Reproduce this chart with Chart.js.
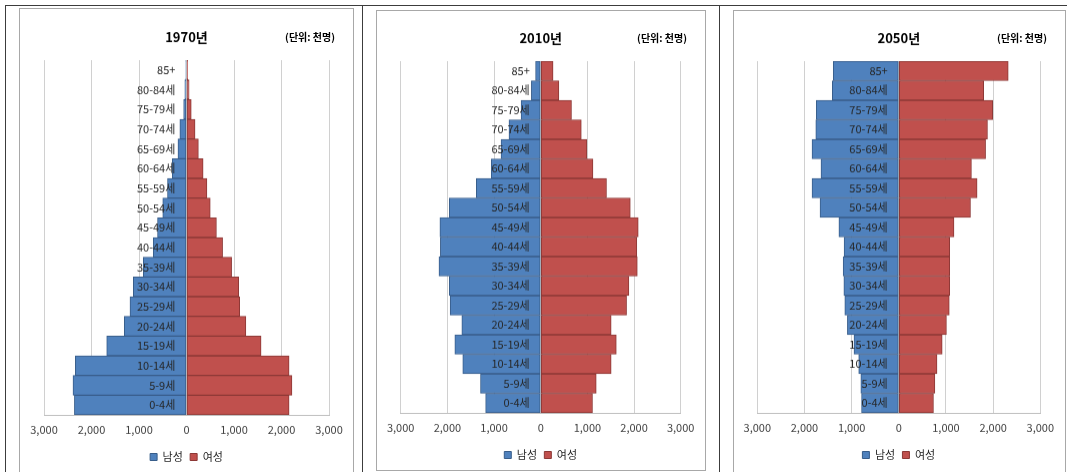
<!DOCTYPE html>
<html>
<head>
<meta charset="utf-8">
<script src="https://cdn.jsdelivr.net/npm/chart.js@4.4.1/dist/chart.umd.min.js"></script>
<style>
  html, body { margin: 0; padding: 0; background: #fff; overflow: hidden; }
  body { width: 1067px; height: 472px; position: relative; font-family: "Noto Sans CJK KR", sans-serif; }
  .line { position: absolute; background: #3c3c3c; }
  .box { position: absolute; border: 1px solid #a8a8a8; box-sizing: border-box; }
  .wrap { position: absolute; }
  .unit { position: absolute; font-size: 10px; font-weight: bold; color: #000; white-space: nowrap; line-height: 14px; }
</style>
</head>
<body>
<div class="line" style="left:5px;top:5px;width:1062px;height:1px"></div>
<div class="line" style="left:5px;top:5px;width:1px;height:467px"></div>
<div class="line" style="left:362px;top:5px;width:1px;height:467px"></div>
<div class="line" style="left:719px;top:5px;width:1px;height:467px"></div>

<div class="box" style="left:19px;top:8px;width:335px;height:480px"></div>
<div class="box" style="left:376px;top:10px;width:330px;height:461px"></div>
<div class="box" style="left:733px;top:10px;width:333px;height:480px"></div>

<div class="wrap" style="left:19px;top:8px;width:334px;height:463.5px"><canvas id="c1970"></canvas></div>
<div class="wrap" style="left:376px;top:10px;width:329px;height:459.5px"><canvas id="c2010"></canvas></div>
<div class="wrap" style="left:733px;top:10px;width:332px;height:459.5px"><canvas id="c2050"></canvas></div>

<div class="unit" style="right:732px;top:30px">(단위: 천명)</div>
<div class="unit" style="right:380px;top:31px">(단위: 천명)</div>
<div class="unit" style="right:20px;top:31px">(단위: 천명)</div>

<script>
const ageGroups = ['0-4세', '5-9세', '10-14세', '15-19세', '20-24세', '25-29세', '30-34세', '35-39세',
  '40-44세', '45-49세', '50-54세', '55-59세', '60-64세', '65-69세', '70-74세', '75-79세', '80-84세', '85+']

const male1970 = [2360, 2390, 2340, 1680, 1310, 1190, 1120, 910, 700, 610, 500, 400, 300, 180, 140, 60, 35, 15]
const female1970 = [2160, 2220, 2160, 1570, 1250, 1120, 1100, 950, 760, 630, 500, 430, 350, 250, 180, 100, 55, 25]

const male2010 = [1180, 1290, 1670, 1840, 1690, 1940, 1960, 2180, 2150, 2160, 1960, 1380, 1060, 850, 680, 420, 200, 110]
const female2010 = [1110, 1190, 1510, 1620, 1510, 1840, 1890, 2070, 2060, 2090, 1920, 1410, 1120, 990, 870, 660, 390, 265]

const male2050 = [790, 805, 850, 950, 1090, 1145, 1165, 1180, 1160, 1270, 1670, 1840, 1650, 1840, 1760, 1750, 1410, 1390]
const female2050 = [735, 765, 810, 920, 1010, 1070, 1080, 1080, 1080, 1170, 1520, 1660, 1540, 1840, 1880, 1990, 1800, 2320]

const xTicks = [-3000, -2000, -1000, 0, 1000, 2000, 3000]
const seriesNames = ['남성', '여성']

// age labels sit a little left of the zero line
const labelAnchor = -235

const FONT = '"Noto Sans CJK KR", sans-serif'

function pyramid(id, title, male, female, pad) {
  const ctx = document.getElementById(id)
  return new Chart(ctx, {
    type: 'bar',
    data: {
      labels: ageGroups,
      datasets: [{
        label: seriesNames[0],
        data: male.map(v => -v),
        backgroundColor: '#4f81bd',
        borderColor: '#385d8a',
        borderWidth: 1,
        borderSkipped: false,
        barPercentage: 1,
        categoryPercentage: 1
      }, {
        label: seriesNames[1],
        data: female,
        backgroundColor: '#c0504d',
        borderColor: '#8c3836',
        borderWidth: 1,
        borderSkipped: false,
        barPercentage: 1,
        categoryPercentage: 1
      }]
    },
    options: {
      indexAxis: 'y',
      responsive: true,
      maintainAspectRatio: false,
      animation: false,
      layout: { padding: { left: pad.left, right: pad.right, top: 0, bottom: 0 } },
      plugins: {
        title: {
          display: true,
          text: title,
          color: '#000',
          font: { family: FONT, size: 13, weight: 'bold' },
          padding: { top: pad.titleTop, bottom: pad.titleBottom }
        },
        legend: {
          position: 'bottom',
          labels: {
            boxWidth: 7,
            boxHeight: 7,
            padding: 7.3,
            color: '#262626',
            font: { family: FONT, size: 11 }
          }
        },
        tooltip: { enabled: false }
      },
      scales: {
        x: {
          stacked: true,
          min: xTicks[0],
          max: xTicks[xTicks.length - 1],
          afterBuildTicks: axis => { axis.ticks = xTicks.map(v => ({ value: v })) },
          grid: { color: '#d0d0d0', drawTicks: false },
          border: { display: true, color: '#bfbfbf' },
          ticks: {
            padding: 8,
            color: '#404040',
            font: { family: FONT, size: 11 },
            callback: v => Math.abs(v).toLocaleString('en-US')
          }
        },
        y: {
          stacked: true,
          reverse: true,
          position: { x: labelAnchor },
          grid: { display: false },
          border: { display: false },
          ticks: {
            z: 1,
            padding: 0,
            color: '#262626',
            font: { family: FONT, size: 11 }
          }
        }
      }
    }
  })
}

pyramid('c1970', '1970년', male1970, female1970, { left: 25, right: 24, titleTop: 21, titleBottom: 15.4 })
pyramid('c2010', '2010년', male2010, female2010, { left: 24.7, right: 24.3, titleTop: 20.2, titleBottom: 15.2 })
pyramid('c2050', '2050년', male2050, female2050, { left: 24.3, right: 24.7, titleTop: 20.2, titleBottom: 15.2 })
</script>
</body>
</html>
